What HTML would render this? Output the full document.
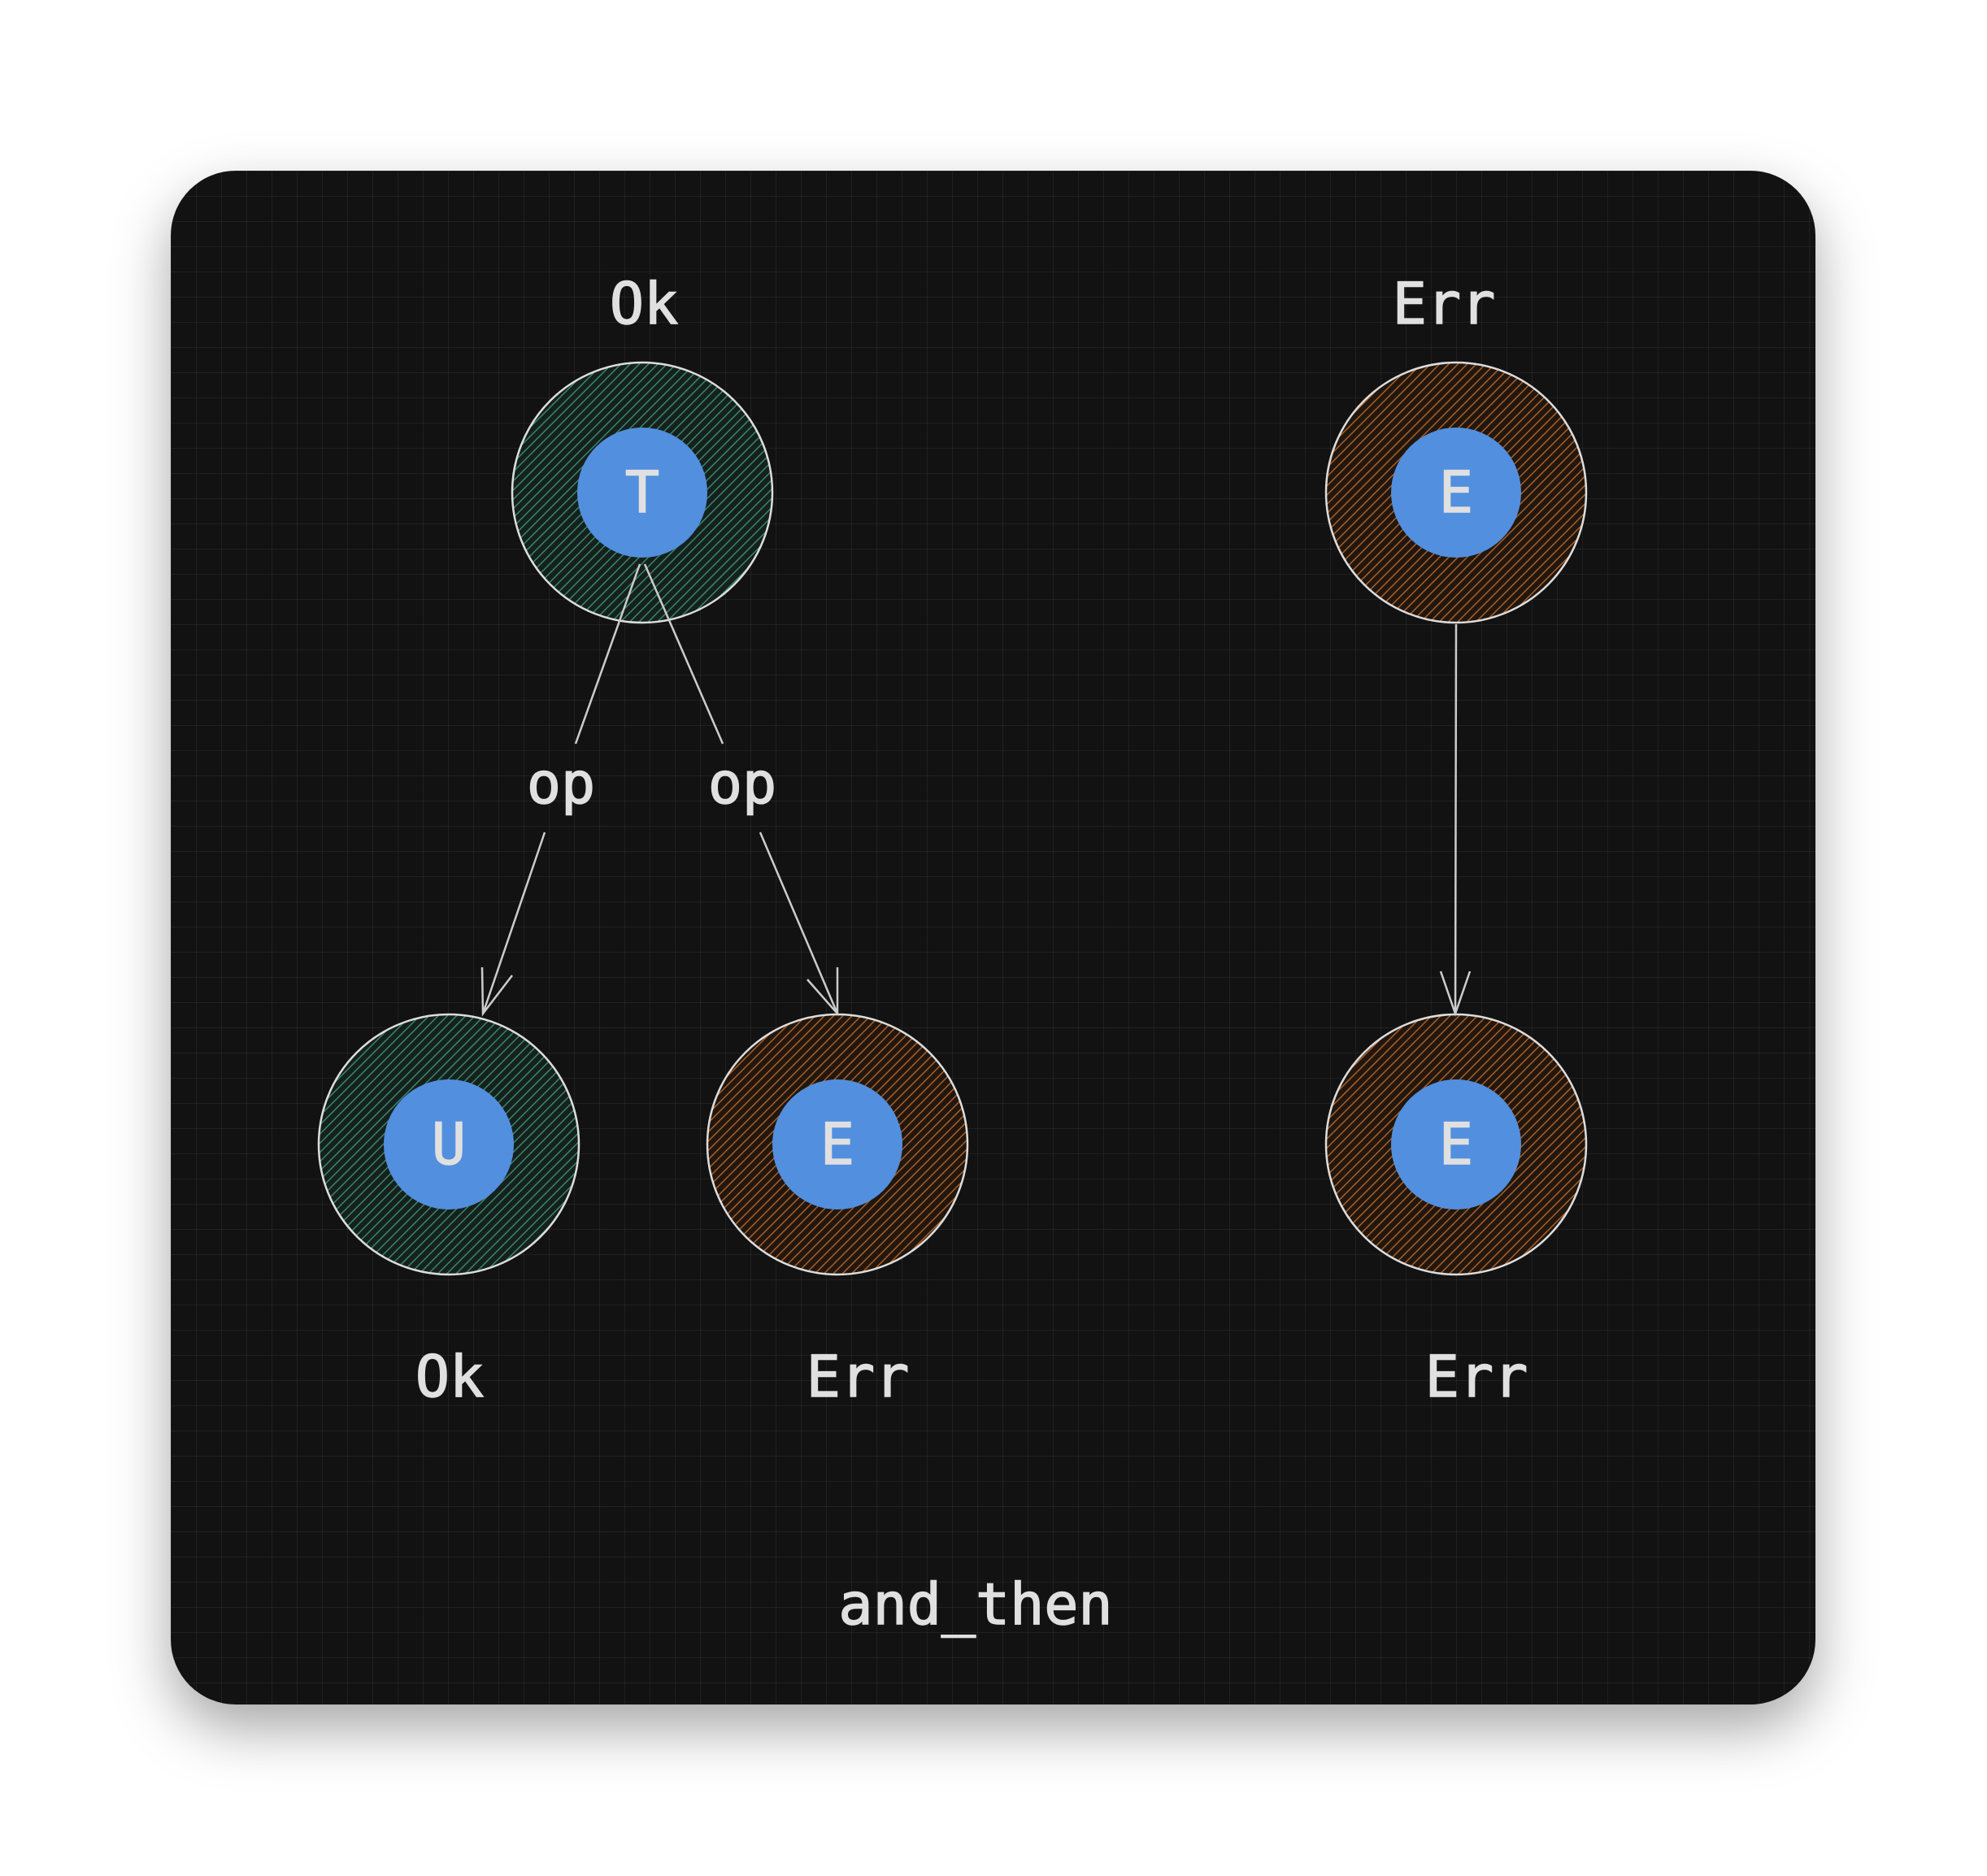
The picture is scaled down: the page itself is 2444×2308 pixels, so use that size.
<!DOCTYPE html>
<html><head><meta charset="utf-8"><style>
html,body{margin:0;padding:0;background:#fff;}
body{width:2444px;height:2308px;position:relative;overflow:hidden;}
.card{position:absolute;left:210px;top:210px;width:2023px;height:1887px;border-radius:80px;background:#121212;box-shadow:0 30px 70px rgba(0,0,0,0.35);overflow:hidden;
background-image:linear-gradient(rgba(255,255,255,0.06) 1px,transparent 1px),linear-gradient(90deg,rgba(255,255,255,0.06) 1px,transparent 1px);background-size:31px 31px;}
svg{position:absolute;left:0;top:0;}
text{font-family:"DejaVu Sans Mono","Liberation Mono",monospace;fill:#e0e0e0;stroke:#e0e0e0;stroke-width:1.5px;font-size:70px;}
</style></head><body>
<div class="card"></div>
<svg width="2444" height="2308" viewBox="0 0 2444 2308">
<defs>
<pattern id="hg" width="8" height="8" patternUnits="userSpaceOnUse" patternTransform="rotate(45)"><rect width="8" height="8" fill="#16201d"/><line x1="0" y1="0" x2="0" y2="8" stroke="#36876c" stroke-width="3"/></pattern>
<pattern id="ho" width="8" height="8" patternUnits="userSpaceOnUse" patternTransform="rotate(45)"><rect width="8" height="8" fill="#21170f"/><line x1="0" y1="0" x2="0" y2="8" stroke="#ab5f26" stroke-width="3"/></pattern>
</defs>
<g stroke="#ddd" stroke-width="2.5">
<circle cx="790" cy="606" r="160" fill="url(#hg)"/>
<circle cx="1791" cy="606" r="160" fill="url(#ho)"/>
<circle cx="552" cy="1408" r="160" fill="url(#hg)"/>
<circle cx="1030" cy="1408" r="160" fill="url(#ho)"/>
<circle cx="1791" cy="1408" r="160" fill="url(#ho)"/>
</g>
<g fill="#528fde">
<circle cx="790" cy="606" r="80"/>
<circle cx="1791" cy="606" r="80"/>
<circle cx="552" cy="1408" r="80"/>
<circle cx="1030" cy="1408" r="80"/>
<circle cx="1791" cy="1408" r="80"/>
</g>
<g stroke="#ccc" stroke-width="2.5" fill="none">
<line x1="787" y1="694" x2="708" y2="915"/>
<line x1="670" y1="1024" x2="594" y2="1247"/>
<polyline points="593,1190 594,1247 630,1200"/>
<line x1="793" y1="694" x2="889" y2="915"/>
<line x1="935" y1="1024" x2="1030" y2="1247"/>
<polyline points="993,1205 1030,1247 1030,1190"/>
<line x1="1791" y1="768" x2="1790" y2="1247"/>
<polyline points="1772,1195 1790,1247 1808,1195"/>
</g>
<g text-anchor="middle">
<text x="792" y="398">Ok</text>
<text x="1776" y="398">Err</text>
<text x="790" y="630" font-size="72">T</text>
<text x="1791" y="630" font-size="72">E</text>
<text x="552" y="1432" font-size="72">U</text>
<text x="1030" y="1432" font-size="72">E</text>
<text x="1791" y="1432" font-size="72">E</text>
<text x="690" y="988">op</text>
<text x="913" y="988">op</text>
<text x="553" y="1718">Ok</text>
<text x="1055" y="1718">Err</text>
<text x="1816" y="1718">Err</text>
<text x="1200" y="1998">and_then</text>
</g>
</svg>
</body></html>
